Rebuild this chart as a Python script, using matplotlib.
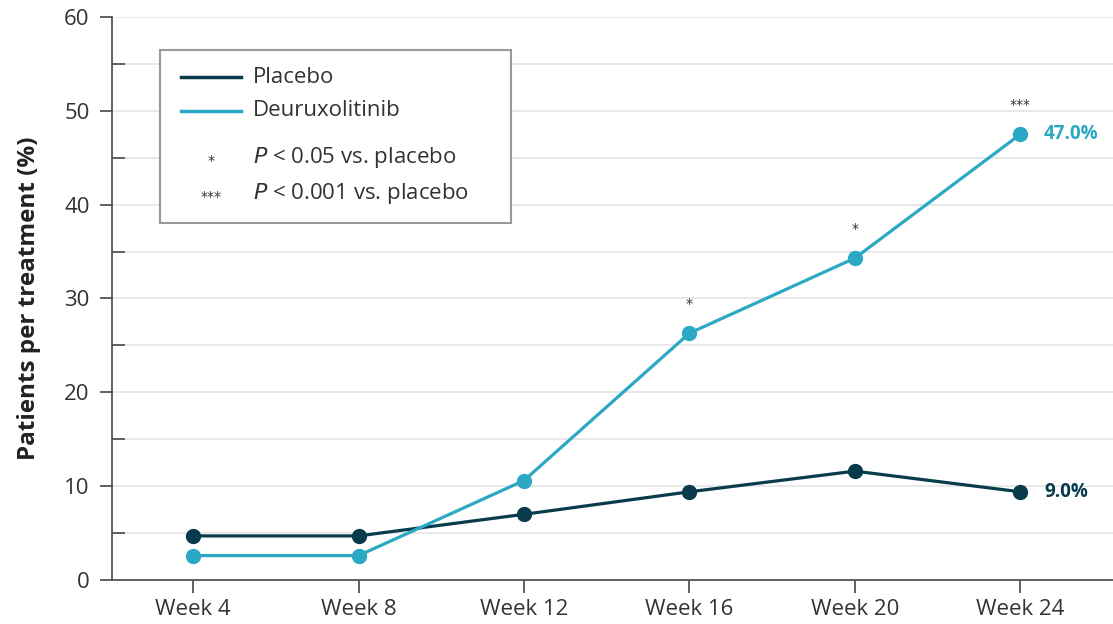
import matplotlib.pyplot as plt
from matplotlib.patches import Rectangle
import numpy as np

weeks = ["Week 4", "Week 8", "Week 12", "Week 16", "Week 20", "Week 24"]
placebo = [4.7, 4.7, 7.0, 9.4, 11.6, 9.4]
deurux = [2.6, 2.6, 10.6, 26.3, 34.3, 47.5]
stars = ["", "", "", "*", "*", "***"]
end_labels = ["9.0%", "47.0%"]

dark = "#083b4b"
teal = "#2aa8c4"
axis_col = "#555555"
text_col = "#333333"

plt.rcParams['font.family'] = ['Open Sans', 'DejaVu Sans']

fig = plt.figure(figsize=(11.13, 6.24), dpi=100)
ax = fig.add_axes([0.1006, 0.0705, 0.8994, 0.9023])

x = np.arange(len(weeks))
ax.plot(x, placebo, color=dark, lw=2.3, marker='o', ms=10, zorder=3)
ax.plot(x, deurux, color=teal, lw=2.3, marker='o', ms=10, zorder=3)

for xi, yi, s in zip(x, deurux, stars):
    if s:
        ax.annotate(s, (xi, yi), xytext=(0, 16), textcoords='offset points',
                    ha='center', va='bottom', fontsize=10, color=text_col,
                    family='DejaVu Sans')

ax.annotate(end_labels[0], (x[-1], placebo[-1]), xytext=(17, 0), textcoords='offset points',
            ha='left', va='center', fontsize=13.5, fontweight='bold', color=dark)
ax.annotate(end_labels[1], (x[-1], deurux[-1]), xytext=(17, 0), textcoords='offset points',
            ha='left', va='center', fontsize=13.5, fontweight='bold', color=teal)

ax.set_xlim(-0.49, 5.56)
ax.set_ylim(0, 60)
ax.set_xticks(x)
ax.set_xticklabels(weeks)
ax.set_yticks(np.arange(0, 61, 10))
ax.set_yticks(np.arange(5, 60, 10), minor=True)
ax.grid(True, which='both', axis='y', color='#e6e6e6', lw=1.3, zorder=0)
ax.set_axisbelow(True)

for side in ['top', 'right']:
    ax.spines[side].set_visible(False)
for side in ['left', 'bottom']:
    ax.spines[side].set_color(axis_col)
    ax.spines[side].set_linewidth(1.3)

ax.tick_params(axis='both', which='major', direction='out', length=9, width=1.3,
               color=axis_col, labelsize=16, labelcolor=text_col, pad=7)
ax.tick_params(axis='y', which='minor', direction='in', length=9, width=1.3, color=axis_col)
ax.tick_params(axis='x', pad=5)

ax.set_ylabel("Patients per treatment (%)", fontsize=17.5, fontweight='bold',
              color='#222222', labelpad=17)

# legend box drawn by hand
ax.add_patch(Rectangle((0.048, 0.634), 0.351, 0.307, transform=ax.transAxes,
                       facecolor='white', edgecolor='#999999', lw=1.5, zorder=4))
ax.plot([0.069, 0.129], [0.893, 0.893], transform=ax.transAxes, color=dark, lw=2.5, zorder=5)
ax.plot([0.069, 0.129], [0.833, 0.833], transform=ax.transAxes, color=teal, lw=2.5, zorder=5)
leg_kw = dict(transform=ax.transAxes, fontsize=16, color=text_col, va='center', zorder=5)
ax.text(0.141, 0.893, "Placebo", **leg_kw)
ax.text(0.141, 0.833, "Deuruxolitinib", **leg_kw)
ax.text(0.099, 0.745, "*", transform=ax.transAxes, fontsize=10, ha='center', va='center',
        color=text_col, zorder=5, family='DejaVu Sans')
ax.text(0.099, 0.681, "***", transform=ax.transAxes, fontsize=10, ha='center', va='center',
        color=text_col, zorder=5, family='DejaVu Sans')
ax.text(0.141, 0.750, "$\\mathit{P}$ < 0.05 vs. placebo", **leg_kw)
ax.text(0.141, 0.686, "$\\mathit{P}$ < 0.001 vs. placebo", **leg_kw)

fig.savefig("out.png", dpi=100)
